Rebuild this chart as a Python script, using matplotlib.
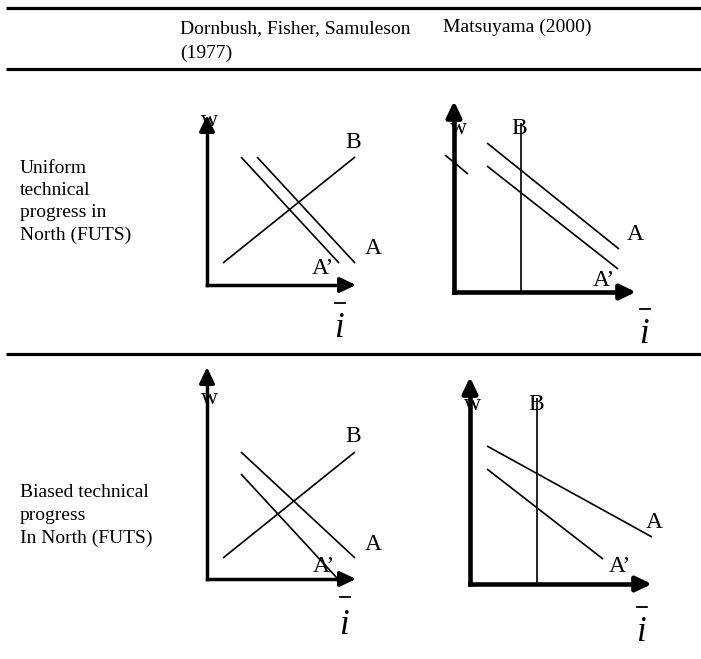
import matplotlib
matplotlib.use("Agg")
import matplotlib.pyplot as plt

W, H = 701, 659

# ---------------- data ----------------
col_headers = ["Dornbush, Fisher, Samuleson\n(1977)", "Matsuyama (2000)"]
row_labels = ["Uniform\ntechnical\nprogress in\nNorth (FUTS)",
              "Biased technical\nprogress\nIn North (FUTS)"]
y_label = "w"
x_label = "i"
curve_names = ["B", "A", "A\u2019"]

# panel curves in local (x = i-bar, y = w) units, origin at axis corner
p1_B = ([16, 148], [22, 128])
p1_A = ([50, 148], [128, 22])
p1_A2 = ([34, 132], [128, 22])

p2_stub = ([-9, 14], [137, 118])
p2_A = ([33, 165], [149, 43])
p2_A2 = ([33, 164], [126, 23])
p2_B = ([67, 67], [0, 169])

p3_B = ([16, 148], [21, 127])
p3_A = ([34, 148], [127, 21])
p3_A2 = ([34, 130], [105, 1])

p4_A = ([17, 182], [138, 47])
p4_A2 = ([17, 133], [115, 25])
p4_B = ([67, 67], [0, 186])

# ---------------- figure ----------------
SERIF = "Liberation Serif"
fig = plt.figure(figsize=(W / 100, H / 100), dpi=100)
fig.patch.set_facecolor("white")

bg = fig.add_axes([0, 0, 1, 1])
bg.set_xlim(0, W)
bg.set_ylim(H, 0)
bg.axis("off")

# table rules
for yy in (8, 69, 354):
    bg.plot([6, W], [yy, yy], color="black", lw=2.3, solid_capstyle="butt")

# va='baseline' on multi-line text anchors the last line
bg.text(180, 58, col_headers[0], family=SERIF, fontsize=14, ha="left", va="baseline",
        linespacing=1.55)
bg.text(443, 32, col_headers[1], family=SERIF, fontsize=14, ha="left", va="baseline")
bg.text(20, 240, row_labels[0], family=SERIF, fontsize=14, ha="left", va="baseline",
        linespacing=1.40)
bg.text(20, 543, row_labels[1], family=SERIF, fontsize=14, ha="left", va="baseline",
        linespacing=1.43)


def panel(origin, xlen, ylen, axis_lw, curves, labels, ibar):
    ox, oy = origin
    L, R, B, T = -45, 215, -75, 240
    ax = fig.add_axes([(ox + L) / W, (H - (oy - B)) / H, (R - L) / W, (T - B) / H])
    ax.set_xlim(L, R)
    ax.set_ylim(B, T)
    ax.axis("off")
    # axis shafts
    ax.plot([0, xlen - 8], [0, 0], color="black", lw=axis_lw,
            solid_capstyle="projecting", clip_on=False)
    ax.plot([0, 0], [0, ylen - 8], color="black", lw=axis_lw,
            solid_capstyle="projecting", clip_on=False)
    # arrow heads
    arrow = dict(arrowstyle="-|>,head_length=0.95,head_width=0.45", lw=axis_lw,
                 color="black", shrinkA=0, shrinkB=0)
    ax.annotate("", xy=(xlen, 0), xytext=(xlen - 16, 0), arrowprops=arrow)
    ax.annotate("", xy=(0, ylen), xytext=(0, ylen - 16), arrowprops=arrow)
    for xs, ys in curves:
        ax.plot(xs, ys, color="black", lw=1.2, solid_capstyle="butt", clip_on=False)
    for txt, (lx, ly) in labels:
        ax.text(lx, ly, txt, family=SERIF, fontsize=17, ha="center", va="center")
    bx, by, iy = ibar
    ax.plot([bx - 5, bx + 5], [by, by], color="black", lw=1.3, clip_on=False)
    ax.text(bx - 1, iy, x_label, family=SERIF, style="italic", fontsize=25,
            ha="center", va="baseline")


panel((207, 285), 149, 170, 2.5, [p1_B, p1_A, p1_A2],
      [(curve_names[0], (146, 143)), (curve_names[1], (166, 37)),
       (curve_names[2], (116, 16)), (y_label, (2, 165))],
      (133, -18, -52))

panel((454, 292), 182, 191, 3.3, [p2_stub, p2_A, p2_A2, p2_B],
      [(curve_names[0], (65, 163)), (curve_names[1], (181, 57)),
       (curve_names[2], (150, 11)), (y_label, (4, 163))],
      (191, -17, -51))

panel((207, 579), 149, 212, 2.5, [p3_B, p3_A, p3_A2],
      [(curve_names[0], (146, 142)), (curve_names[1], (166, 35)),
       (curve_names[2], (117, 13)), (y_label, (2, 181))],
      (138, -18, -55))

panel((470, 584), 182, 207, 3.3, [p4_A, p4_A2, p4_B],
      [(curve_names[0], (66, 179)), (curve_names[1], (184, 62)),
       (curve_names[2], (150, 17)), (y_label, (2, 179))],
      (172, -23, -57))

fig.savefig("out.png", dpi=100)
